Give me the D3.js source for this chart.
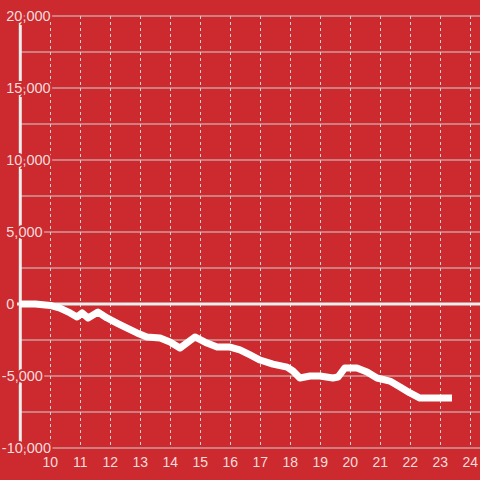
<!DOCTYPE html>
<html>
<head>
<meta charset="utf-8">
<script src="https://cdn.jsdelivr.net/npm/d3@7"></script>
<style>
html,body{margin:0;padding:0;background:#cc2a2f;}
svg{display:block;}
text{font-family:"Liberation Sans",Arial,sans-serif;}
</style>
</head>
<body>
<svg id="chart" width="480" height="480"></svg>
<script>
const xValues = [9.0, 9.5, 10.0, 10.32, 10.66, 10.89, 11.06, 11.26, 11.59, 11.89, 12.22, 12.56, 12.89, 13.22, 13.66, 13.99, 14.32, 14.82, 15.22, 15.56, 15.99, 16.32, 16.66, 16.99, 17.42, 17.89, 18.09, 18.32, 18.66, 18.99, 19.42, 19.59, 19.82, 20.22, 20.56, 20.89, 21.32, 21.66, 21.99, 22.32, 23.39];
const yValues = [0, 0, -100, -280, -620, -900, -620, -970, -560, -970, -1320, -1670, -2010, -2290, -2360, -2640, -3060, -2290, -2710, -2990, -2990, -3190, -3540, -3890, -4170, -4380, -4650, -5140, -5000, -5000, -5140, -5070, -4440, -4440, -4720, -5140, -5350, -5760, -6180, -6530, -6530];
const yTicks = [-10000, -7500, -5000, -2500, 0, 2500, 5000, 7500, 10000, 12500, 15000, 17500, 20000];
const yLabelTicks = [-10000, -5000, 0, 5000, 10000, 15000, 20000];
const xTicks = [10, 11, 12, 13, 14, 15, 16, 17, 18, 19, 20, 21, 22, 23, 24];

const bg = "#cc2a2f";
const svg = d3.select("#chart");
const x = d3.scaleLinear().domain([9, 24]).range([20.3, 470.3]);
const y = d3.scaleLinear().domain([-10000, 20000]).range([448, 16]);

// horizontal gridlines
svg.append("g").selectAll("line").data(yTicks).join("line")
  .attr("x1", 20).attr("x2", 480)
  .attr("y1", d => y(d)).attr("y2", d => y(d))
  .attr("stroke", "#d2d2d2").attr("stroke-width", 1);

// vertical dashed gridlines
svg.append("g").selectAll("line").data(xTicks).join("line")
  .attr("x1", d => Math.round(x(d)) + 0.5).attr("x2", d => Math.round(x(d)) + 0.5)
  .attr("y1", y(20000)).attr("y2", y(-10000))
  .attr("stroke", "#d2d2d2").attr("stroke-width", 1)
  .attr("stroke-dasharray", "3,3");

// y axis line
svg.append("line")
  .attr("x1", x(9)).attr("x2", x(9))
  .attr("y1", y(20000)).attr("y2", y(-10000))
  .attr("stroke", "#eeeeee").attr("stroke-width", 3);

// zero line
svg.append("line")
  .attr("x1", 17).attr("x2", 480)
  .attr("y1", y(0)).attr("y2", y(0))
  .attr("stroke", "#eeeeee").attr("stroke-width", 3);

// data line
const line = d3.line().x(d => x(d[0])).y(d => y(d[1]));
svg.append("path")
  .datum(xValues.map((v, i) => [v, yValues[i]]))
  .attr("d", line)
  .attr("fill", "none")
  .attr("stroke", "#ffffff")
  .attr("stroke-width", 7)
  .attr("stroke-linejoin", "round");

// y labels with halos (digits left-aligned, minus sign hanging)
const fmt = d3.format(",");
svg.append("g").selectAll("text").data(yLabelTicks).join("text")
  .attr("x", d => d < 0 ? 1.8 : 6.3).attr("y", d => y(d))
  .attr("dy", "0.35em")
  .attr("text-anchor", "start")
  .attr("font-size", 14.5)
  .attr("fill", "#f5dcdc")
  .attr("stroke", bg).attr("stroke-width", 4)
  .attr("paint-order", "stroke")
  .text(d => (d < 0 ? "-" : "") + fmt(Math.abs(d)));

// x labels
svg.append("g").selectAll("text").data(xTicks).join("text")
  .attr("x", d => x(d)).attr("y", 467)
  .attr("text-anchor", "middle")
  .attr("font-size", 14)
  .attr("fill", "#f5dcdc")
  .text(d => d);
</script>
</body>
</html>
